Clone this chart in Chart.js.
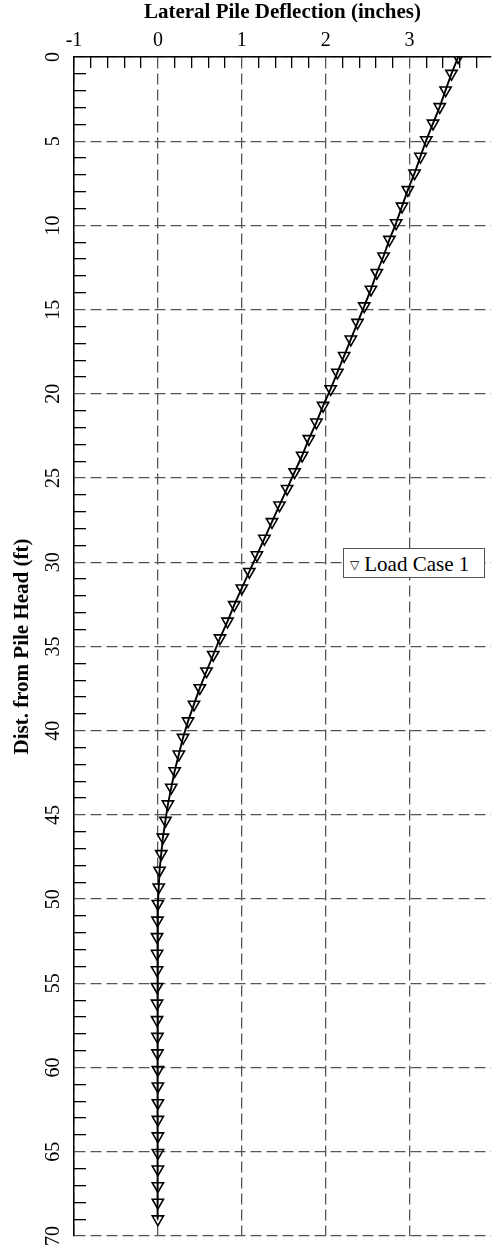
<!DOCTYPE html>
<html>
<head>
<meta charset="utf-8">
<script src="https://cdn.jsdelivr.net/npm/chart.js@4.4.0/dist/chart.umd.min.js"></script>
<style>
  body { margin: 0; background: #fff; }
  #wrap { position: relative; width: 499px; height: 1254px; }
  #legendBox {
    position: absolute; left: 343px; top: 548px; width: 142px; height: 30px;
    border: 1px solid #555; background: #fff; box-sizing: border-box;
    font-family: "Liberation Serif", serif; font-size: 21px; line-height: 30px;
    white-space: nowrap; color: #000; padding-left: 6px;
  }
  #legendBox .sym { font-family: "DejaVu Sans", sans-serif; font-size: 12px; position: relative; top: -2px; margin-right: 5px; }
</style>
</head>
<body>
<div id="wrap">
  <canvas id="pileChart" width="499" height="1254"></canvas>
  <div id="legendBox"><span class="sym">▽</span>Load Case 1</div>
</div>
<script>
// depth below pile head (ft), one node per row
const depthFt = [0, 0.99, 1.97, 2.96, 3.94, 4.93, 5.91, 6.90, 7.89, 8.87,
  9.86, 10.84, 11.83, 12.81, 13.80, 14.79, 15.77, 16.76, 17.74, 18.73,
  19.71, 20.70, 21.69, 22.67, 23.66, 24.64, 25.63, 26.61, 27.60, 28.59,
  29.57, 30.56, 31.54, 32.53, 33.51, 34.50, 35.49, 36.47, 37.46, 38.44,
  39.43, 40.41, 41.40, 42.39, 43.37, 44.36, 45.34, 46.33, 47.31, 48.30,
  49.29, 50.27, 51.26, 52.24, 53.23, 54.21, 55.20, 56.19, 57.17, 58.16,
  59.14, 60.13, 61.11, 62.10, 63.09, 64.07, 65.06, 66.04, 67.03, 68.01, 69.00];

// lateral deflection (inches), Load Case 1
const deflectionIn = [3.58, 3.50, 3.43, 3.36, 3.28, 3.20, 3.13, 3.06, 2.98, 2.91,
  2.84, 2.76, 2.69, 2.61, 2.54, 2.46, 2.38, 2.30, 2.22, 2.14,
  2.06, 1.97, 1.89, 1.80, 1.72, 1.63, 1.54, 1.45, 1.36, 1.27,
  1.18, 1.09, 1.00, 0.91, 0.83, 0.74, 0.66, 0.58, 0.50, 0.43,
  0.36, 0.30, 0.25, 0.20, 0.16, 0.12, 0.09, 0.06, 0.04, 0.02,
  0.01, 0.00, -0.005, -0.01, -0.01, -0.01, -0.01, -0.01, -0.01, -0.005,
  -0.005, 0, 0, 0, 0, 0, 0, 0, 0, 0, 0];

// axis ticks
const xMajorTicks = [-1, 0, 1, 2, 3];
const yMajorTicks = [0, 5, 10, 15, 20, 25, 30, 35, 40, 45, 50, 55, 60, 65, 70];

const xTickValues = [];
for (let i = 0; i <= 24; i++) xTickValues.push(+(-1 + i * 0.2).toFixed(1));
const yTickValues = [];
for (let i = 0; i <= 70; i++) yTickValues.push(i);

const isMajor = (v, list) => list.some(m => Math.abs(m - v) < 1e-6);

const serif = "'Liberation Serif', 'Times New Roman', serif";
const gridGray = "#555";
const clear = "rgba(0,0,0,0)";

const ctx = document.getElementById("pileChart").getContext("2d");

new Chart(ctx, {
  type: "scatter",
  data: {
    datasets: [{
      label: "Load Case 1",
      data: depthFt.map((d, i) => ({ x: deflectionIn[i], y: d })),
      showLine: true,
      borderColor: "#000",
      borderWidth: 1.9,
      pointStyle: "triangle",
      pointRotation: 180,
      pointRadius: 6.5,
      pointBorderWidth: 1.6,
      pointBorderColor: "#000",
      pointBackgroundColor: clear,
      clip: 0
    }]
  },
  options: {
    responsive: false,
    animation: false,
    devicePixelRatio: 1,
    layout: { padding: { left: 0, top: 0, right: 0, bottom: 18 } },
    plugins: { legend: { display: false }, tooltip: { enabled: false } },
    scales: {
      x: {
        type: "linear",
        position: "top",
        min: -1,
        max: 3.97,
        afterBuildTicks: s => { s.ticks = xTickValues.map(v => ({ value: v })); },
        afterFit: s => { s.height = 57; s.paddingLeft = 0; s.paddingRight = 0; },
        ticks: {
          autoSkip: false, minRotation: 0, maxRotation: 0, padding: 15.5,
          color: "#000", font: { family: serif, size: 20 },
          callback: v => isMajor(v, xMajorTicks) ? String(Math.round(v)) : ""
        },
        grid: {
          tickLength: -11,
          tickWidth: 1.3,
          lineWidth: 1.3,
          color: c => isMajor(c.tick.value, xMajorTicks) ? gridGray : clear,
          tickColor: c => isMajor(c.tick.value, xMajorTicks) ? clear : "#000"
        },
        border: { display: true, color: "#000", width: 1.5, dash: [11, 5] },
        title: {
          display: true, text: "Lateral Pile Deflection (inches)", color: "#000",
          font: { family: serif, size: 21, weight: "bold" }, padding: { top: 0, bottom: 0 }
        }
      },
      y: {
        type: "linear",
        reverse: true,
        min: 0,
        max: 70,
        afterBuildTicks: s => { s.ticks = yTickValues.map(v => ({ value: v })); },
        afterFit: s => { s.width = 74; s.paddingTop = 0; s.paddingBottom = 0; },
        ticks: {
          autoSkip: false, minRotation: 90, maxRotation: 90, padding: 22.5,
          crossAlign: "center",
          color: "#000", font: { family: serif, size: 20 },
          callback: v => isMajor(v, yMajorTicks) ? String(v) : ""
        },
        grid: {
          tickLength: -12,
          tickWidth: 1.3,
          lineWidth: 1.3,
          color: c => isMajor(c.tick.value, yMajorTicks) ? gridGray : clear,
          tickColor: c => isMajor(c.tick.value, yMajorTicks) ? clear : "#000"
        },
        border: { display: true, color: "#000", width: 1.5, dash: [11, 5] },
        title: {
          display: true, text: "Dist. from Pile Head (ft)", color: "#000",
          font: { family: serif, size: 21, weight: "bold" }, padding: { top: 9.5, bottom: 0 }
        }
      }
    }
  }
});
</script>
</body>
</html>
